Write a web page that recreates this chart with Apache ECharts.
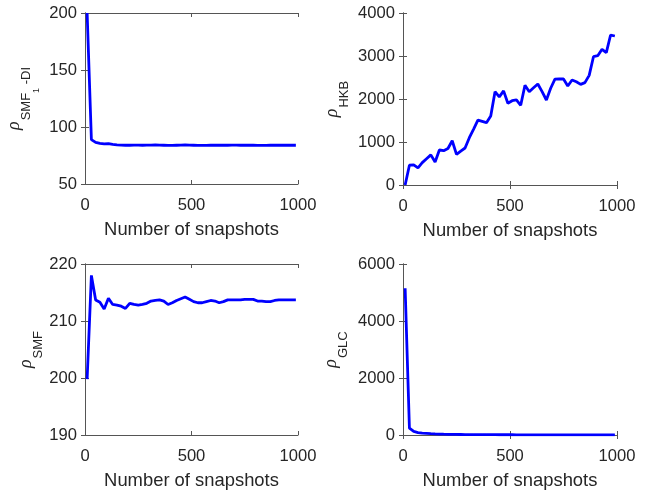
<!DOCTYPE html>
<html>
<head>
<meta charset="utf-8">
<script src="https://cdn.jsdelivr.net/npm/echarts@6/dist/echarts.min.js"></script>
<style>
  html, body { margin: 0; padding: 0; background: #ffffff; }
  #chart { width: 651px; height: 491px; }
</style>
</head>
<body>
<div id="chart"></div>
<script>
// Number of snapshots at which each estimate was taken
const snapshots = [10, 30, 50, 70, 90, 110, 130, 150, 170, 190,
                   210, 230, 250, 270, 290, 310, 330, 350, 370, 390,
                   410, 430, 450, 470, 490, 510, 530, 550, 570, 590,
                   610, 630, 650, 670, 690, 710, 730, 750, 770, 790,
                   810, 830, 850, 870, 890, 910, 930, 950, 970, 990];

// rho for SMF_1-DI
const rhoSmf1Di = [200, 89, 86.5, 85.6, 85.2, 85.4, 84.7, 84.3, 84.1, 84.0,
                   84.0, 84.1, 84.1, 84.0, 84.1, 84.1, 84.2, 84.1, 84.0, 83.9,
                   83.9, 84.0, 84.1, 84.2, 84.1, 84.0, 83.9, 83.9, 83.9, 84.0,
                   84.0, 84.0, 84.0, 84.0, 84.1, 84.1, 84.0, 84.0, 84.0, 84.0,
                   83.9, 83.9, 83.9, 84.0, 84.0, 84.0, 84.0, 84.0, 84.0, 84.0];

// rho for HKB
const rhoHkb = [0, 460, 470, 400, 520, 610, 700, 535, 814, 798,
                850, 1030, 714, 790, 860, 1100, 1300, 1510, 1480, 1450,
                1605, 2170, 2050, 2190, 1900, 1960, 1977, 1853, 2318, 2170,
                2260, 2349, 2170, 1977, 2250, 2460, 2465, 2465, 2302, 2442,
                2400, 2341, 2380, 2550, 2984, 3007, 3156, 3077, 3488, 3465];

// rho for SMF
const rhoSmf = [199.8, 218.0, 213.7, 213.3, 212.1, 214.0, 212.9, 212.8, 212.6, 212.2,
                213.1, 212.9, 212.8, 212.9, 213.1, 213.5, 213.6, 213.7, 213.5, 212.9,
                213.2, 213.6, 213.9, 214.2, 213.8, 213.4, 213.2, 213.2, 213.4, 213.6,
                213.5, 213.2, 213.4, 213.7, 213.7, 213.7, 213.7, 213.8, 213.8, 213.8,
                213.5, 213.5, 213.4, 213.4, 213.6, 213.7, 213.7, 213.7, 213.7, 213.7];

// rho for GLC
const rhoGlc = [5150, 240, 125, 85, 68, 58, 48, 40, 33, 28,
                25, 22, 20, 18, 16, 15, 14, 13, 12, 11,
                10, 10, 9, 9, 8, 8, 7, 7, 7, 6,
                6, 6, 6, 5, 5, 5, 5, 5, 5, 5,
                4, 4, 4, 4, 4, 4, 4, 4, 4, 4];

const xMin = 0, xMax = 1000, xStep = 500;
const xTitle = 'Number of snapshots';

const textColor = '#262626';
const boxColor = '#555555';
const lineBlue = '#0000ff';

// y-axis titles written as rich text: rho with (nested) subscripts
const nameRich = {
  r:  { fontFamily: 'Liberation Serif', fontStyle: 'italic', fontSize: 18, color: textColor,
        verticalAlign: 'top', padding: [0, 1, 0, 0] },
  s:  { fontFamily: 'Liberation Sans', fontSize: 13, color: textColor,
        verticalAlign: 'top', padding: [15, 0, 0, 0] },
  ss: { fontFamily: 'Liberation Sans', fontSize: 9, color: textColor,
        verticalAlign: 'top', padding: [27, 0, 0, 0] }
};

const panels = [
  { grid: { left: 85,  top: 13,  width: 213, height: 171 }, min: 50,  max: 200,  step: 50,
    values: rhoSmf1Di, name: '{r|ρ}{s|SMF}{ss|1}{s| -DI}', gap: 44 },
  { grid: { left: 403, top: 13,  width: 214, height: 172 }, min: 0,   max: 4000, step: 1000,
    values: rhoHkb, name: '{r|ρ}{s|HKB}', gap: 52 },
  { grid: { left: 85,  top: 264, width: 213, height: 171 }, min: 190, max: 220,  step: 10,
    values: rhoSmf, name: '{r|ρ}{s|SMF}', gap: 40 },
  { grid: { left: 403, top: 264, width: 214, height: 171 }, min: 0,   max: 6000, step: 2000,
    values: rhoGlc, name: '{r|ρ}{s|GLC}', gap: 53 }
];

const boxLine = { show: true, lineStyle: { color: boxColor, width: 1 } };
const innerTick = { show: true, inside: true, length: 4, lineStyle: { color: boxColor, width: 1 } };
const tickFont = { fontFamily: 'Liberation Sans', fontSize: 16.6, color: textColor,
                   formatter: v => String(v) };

const grid = [], xAxis = [], yAxis = [], series = [];

panels.forEach((p, i) => {
  grid.push(Object.assign({ containLabel: false }, p.grid));

  // bottom x axis with labels and title
  xAxis.push({
    type: 'value', gridIndex: i, position: 'bottom',
    min: xMin, max: xMax, interval: xStep,
    axisLine: boxLine, axisTick: innerTick, splitLine: { show: false },
    axisLabel: Object.assign({ margin: 13 }, tickFont),
    name: xTitle, nameLocation: 'middle', nameGap: 37,
    nameTextStyle: { fontFamily: 'Liberation Sans', fontSize: 18.4, color: textColor }
  });
  // top edge of the box, ticks only
  xAxis.push({
    type: 'value', gridIndex: i, position: 'top',
    min: xMin, max: xMax, interval: xStep,
    axisLine: boxLine, axisTick: innerTick, splitLine: { show: false },
    axisLabel: { show: false }
  });

  // left y axis with labels and title
  yAxis.push({
    type: 'value', gridIndex: i, position: 'left',
    min: p.min, max: p.max, interval: p.step,
    axisLine: boxLine, axisTick: innerTick, splitLine: { show: false },
    axisLabel: Object.assign({ margin: 8 }, tickFont),
    name: p.name, nameLocation: 'middle', nameRotate: 90, nameGap: p.gap,
    nameTextStyle: { rich: nameRich }
  });
  // right edge of the box, ticks only
  yAxis.push({
    type: 'value', gridIndex: i, position: 'right',
    min: p.min, max: p.max, interval: p.step,
    axisLine: boxLine, axisTick: innerTick, splitLine: { show: false },
    axisLabel: { show: false }
  });

  series.push({
    type: 'line',
    xAxisIndex: i * 2, yAxisIndex: i * 2,
    data: snapshots.map((s, k) => [s, p.values[k]]),
    showSymbol: false, clip: true,
    lineStyle: { color: lineBlue, width: 2.8 },
    z: 3
  });
});

const chart = echarts.init(document.getElementById('chart'), null, { renderer: 'canvas' });
chart.setOption({
  animation: false,
  backgroundColor: '#ffffff',
  grid, xAxis, yAxis, series
});
</script>
</body>
</html>
